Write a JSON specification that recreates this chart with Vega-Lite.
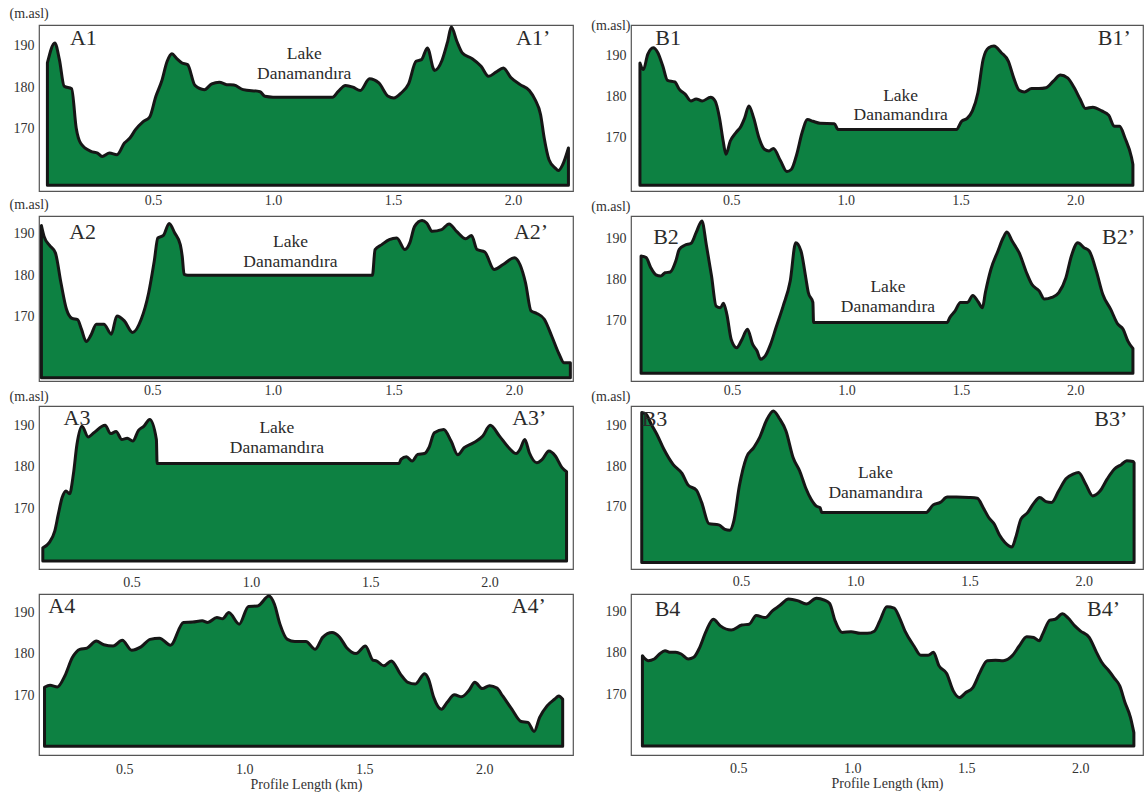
{
"$schema": "https://vega.github.io/schema/vega-lite/v6.json",
"background": "white",
"padding": {"left": 8, "top": 5, "right": 0, "bottom": 0},
"datasets": {
"A1": [{"km":0.060,"m":185.8},{"km":0.091,"m":190.6},{"km":0.11,"m":186.6},{"km":0.13,"m":180.2},{"km":0.161,"m":179.6},{"km":0.18,"m":170.2},{"km":0.198,"m":166.6},{"km":0.241,"m":164.6},{"km":0.269,"m":164.2},{"km":0.288,"m":163.4},{"km":0.319,"m":164.2},{"km":0.35,"m":163.8},{"km":0.381,"m":166.6},{"km":0.404,"m":167.8},{"km":0.427,"m":169.8},{"km":0.458,"m":171.7},{"km":0.486,"m":172.8},{"km":0.512,"m":177.8},{"km":0.536,"m":181.4},{"km":0.559,"m":186.2},{"km":0.579,"m":188},{"km":0.598,"m":186.9},{"km":0.621,"m":185.8},{"km":0.644,"m":185.4},{"km":0.675,"m":180.4},{"km":0.714,"m":179.4},{"km":0.745,"m":180.8},{"km":0.776,"m":181.2},{"km":0.807,"m":180.6},{"km":0.837,"m":180.5},{"km":0.876,"m":179.4},{"km":0.946,"m":178.9},{"km":0.966,"m":177.8},{"km":1.0,"m":177.6},{"km":1.248,"m":177.6},{"km":1.272,"m":179},{"km":1.302,"m":180.4},{"km":1.333,"m":180},{"km":1.364,"m":179.2},{"km":1.402,"m":182},{"km":1.441,"m":181},{"km":1.48,"m":177.8},{"km":1.503,"m":177.4},{"km":1.534,"m":178.6},{"km":1.565,"m":180.8},{"km":1.596,"m":186.2},{"km":1.619,"m":186.6},{"km":1.643,"m":189.4},{"km":1.673,"m":184},{"km":1.704,"m":186.4},{"km":1.728,"m":191},{"km":1.743,"m":194.4},{"km":1.766,"m":191},{"km":1.789,"m":188.2},{"km":1.828,"m":186.9},{"km":1.867,"m":185},{"km":1.898,"m":182.6},{"km":1.929,"m":183.6},{"km":1.96,"m":184.6},{"km":1.991,"m":182.3},{"km":2.03,"m":180.6},{"km":2.068,"m":179.2},{"km":2.092,"m":177},{"km":2.115,"m":173.4},{"km":2.13,"m":167.8},{"km":2.15,"m":162.6},{"km":2.176,"m":160.6},{"km":2.189,"m":160},{"km":2.207,"m":161.4},{"km":2.231,"m":165.4}],
"A2": [{"km":0.040,"m":192},{"km":0.051,"m":189.4},{"km":0.074,"m":187.2},{"km":0.098,"m":185.4},{"km":0.121,"m":178.2},{"km":0.144,"m":171.8},{"km":0.167,"m":169.6},{"km":0.19,"m":169.3},{"km":0.206,"m":167},{"km":0.226,"m":164},{"km":0.245,"m":165.5},{"km":0.268,"m":168.2},{"km":0.299,"m":168.2},{"km":0.33,"m":165.8},{"km":0.353,"m":170.2},{"km":0.384,"m":169},{"km":0.418,"m":166.2},{"km":0.454,"m":169.4},{"km":0.485,"m":175.8},{"km":0.508,"m":183.4},{"km":0.523,"m":189},{"km":0.546,"m":189.6},{"km":0.57,"m":192.5},{"km":0.593,"m":190.2},{"km":0.616,"m":187.4},{"km":0.624,"m":184.6},{"km":0.632,"m":180.2},{"km":0.647,"m":180},{"km":1.413,"m":180},{"km":1.424,"m":186.2},{"km":1.452,"m":187.4},{"km":1.483,"m":188.6},{"km":1.514,"m":189},{"km":1.548,"m":186.2},{"km":1.568,"m":187.8},{"km":1.588,"m":191.8},{"km":1.619,"m":193.2},{"km":1.638,"m":192.6},{"km":1.661,"m":190.6},{"km":1.7,"m":191},{"km":1.731,"m":192.4},{"km":1.762,"m":190.6},{"km":1.8,"m":188.8},{"km":1.824,"m":189.6},{"km":1.847,"m":186.2},{"km":1.879,"m":185.6},{"km":1.918,"m":181.4},{"km":1.955,"m":182.6},{"km":2.002,"m":184.2},{"km":2.025,"m":182.6},{"km":2.048,"m":178.2},{"km":2.071,"m":171.4},{"km":2.095,"m":170.8},{"km":2.126,"m":169.4},{"km":2.157,"m":165.3},{"km":2.188,"m":160.9},{"km":2.208,"m":158.9},{"km":2.234,"m":158.9}],
"A3": [{"km":0.128,"m":160.5},{"km":0.154,"m":161.7},{"km":0.178,"m":164.5},{"km":0.193,"m":168.6},{"km":0.209,"m":172.6},{"km":0.225,"m":174.2},{"km":0.24,"m":173.5},{"km":0.256,"m":178.2},{"km":0.271,"m":185.4},{"km":0.292,"m":189.8},{"km":0.318,"m":187.2},{"km":0.342,"m":188.2},{"km":0.389,"m":190},{"km":0.412,"m":188},{"km":0.435,"m":188.5},{"km":0.459,"m":186.6},{"km":0.482,"m":186.9},{"km":0.505,"m":186.2},{"km":0.529,"m":188.8},{"km":0.552,"m":189.8},{"km":0.576,"m":191.4},{"km":0.604,"m":186.6},{"km":0.607,"m":180.8},{"km":1.621,"m":180.8},{"km":1.629,"m":181.8},{"km":1.652,"m":182.4},{"km":1.676,"m":181.4},{"km":1.699,"m":183},{"km":1.727,"m":183.2},{"km":1.746,"m":184.6},{"km":1.769,"m":188.2},{"km":1.808,"m":189},{"km":1.839,"m":186.2},{"km":1.867,"m":182.9},{"km":1.894,"m":184.6},{"km":1.933,"m":185.8},{"km":1.972,"m":187.4},{"km":2.003,"m":190},{"km":2.042,"m":187.4},{"km":2.081,"m":184.6},{"km":2.112,"m":183.2},{"km":2.128,"m":184.2},{"km":2.148,"m":186.6},{"km":2.167,"m":183.4},{"km":2.198,"m":181},{"km":2.221,"m":181.8},{"km":2.249,"m":183.8},{"km":2.276,"m":182.6},{"km":2.304,"m":179.8},{"km":2.323,"m":178.8}],
"A4": [{"km":0.168,"m":171.9},{"km":0.191,"m":172.4},{"km":0.222,"m":172},{"km":0.253,"m":174.7},{"km":0.284,"m":179.1},{"km":0.315,"m":181.1},{"km":0.345,"m":181.4},{"km":0.384,"m":183.1},{"km":0.415,"m":182.2},{"km":0.454,"m":181.9},{"km":0.492,"m":183.3},{"km":0.531,"m":180.9},{"km":0.57,"m":181.7},{"km":0.608,"m":183.5},{"km":0.647,"m":183.8},{"km":0.693,"m":182.1},{"km":0.747,"m":187.6},{"km":0.786,"m":187.7},{"km":0.825,"m":188},{"km":0.848,"m":187.6},{"km":0.886,"m":188.8},{"km":0.91,"m":188.5},{"km":0.936,"m":190},{"km":0.979,"m":187.2},{"km":1.018,"m":191.5},{"km":1.056,"m":191.6},{"km":1.103,"m":194},{"km":1.126,"m":192},{"km":1.149,"m":187.2},{"km":1.18,"m":183.5},{"km":1.211,"m":183},{"km":1.257,"m":183},{"km":1.296,"m":181.1},{"km":1.327,"m":184},{"km":1.366,"m":185.2},{"km":1.397,"m":184.1},{"km":1.427,"m":181.5},{"km":1.466,"m":180.1},{"km":1.505,"m":181.9},{"km":1.536,"m":178.5},{"km":1.551,"m":178.3},{"km":1.582,"m":177.1},{"km":1.613,"m":178.3},{"km":1.651,"m":175.1},{"km":1.682,"m":173.1},{"km":1.713,"m":172.7},{"km":1.752,"m":175.2},{"km":1.768,"m":173.9},{"km":1.79,"m":169.4},{"km":1.822,"m":166.6},{"km":1.845,"m":168.2},{"km":1.876,"m":170.1},{"km":1.906,"m":169.6},{"km":1.937,"m":171.2},{"km":1.961,"m":173.1},{"km":1.992,"m":171.6},{"km":2.022,"m":172.3},{"km":2.053,"m":171.7},{"km":2.077,"m":169.8},{"km":2.115,"m":166.6},{"km":2.154,"m":163.6},{"km":2.182,"m":163.4},{"km":2.208,"m":161.2},{"km":2.231,"m":164.6},{"km":2.262,"m":167.4},{"km":2.293,"m":169},{"km":2.311,"m":169.8},{"km":2.327,"m":169}],
"B1": [{"km":0.102,"m":188.1},{"km":0.117,"m":186.5},{"km":0.136,"m":190.2},{"km":0.16,"m":191.8},{"km":0.18,"m":190.6},{"km":0.202,"m":187.3},{"km":0.222,"m":183.9},{"km":0.254,"m":183.5},{"km":0.274,"m":181.7},{"km":0.3,"m":180.5},{"km":0.324,"m":178.9},{"km":0.347,"m":179.4},{"km":0.374,"m":178.9},{"km":0.41,"m":179.8},{"km":0.43,"m":178.9},{"km":0.449,"m":174.8},{"km":0.465,"m":169.2},{"km":0.477,"m":166},{"km":0.496,"m":169.2},{"km":0.52,"m":171.2},{"km":0.543,"m":172.8},{"km":0.559,"m":174.8},{"km":0.577,"m":177.7},{"km":0.598,"m":174.8},{"km":0.621,"m":170},{"km":0.645,"m":167.2},{"km":0.665,"m":166.8},{"km":0.684,"m":167.4},{"km":0.715,"m":164.4},{"km":0.743,"m":161.8},{"km":0.762,"m":162.3},{"km":0.786,"m":166},{"km":0.809,"m":171.2},{"km":0.833,"m":174.4},{"km":0.856,"m":174},{"km":0.887,"m":173.5},{"km":0.95,"m":173.4},{"km":0.966,"m":172},{"km":0.981,"m":172},{"km":1.482,"m":172},{"km":1.505,"m":174},{"km":1.529,"m":174.7},{"km":1.552,"m":176.5},{"km":1.576,"m":180.9},{"km":1.599,"m":189},{"km":1.623,"m":191.8},{"km":1.646,"m":192.2},{"km":1.678,"m":190.6},{"km":1.709,"m":188.5},{"km":1.732,"m":184.5},{"km":1.756,"m":181.5},{"km":1.779,"m":181.1},{"km":1.81,"m":181.9},{"km":1.842,"m":181.9},{"km":1.873,"m":182.1},{"km":1.905,"m":183.7},{"km":1.936,"m":185.2},{"km":1.967,"m":184.5},{"km":1.998,"m":181.9},{"km":2.022,"m":179.3},{"km":2.045,"m":177.1},{"km":2.077,"m":177.4},{"km":2.116,"m":176.5},{"km":2.147,"m":175.4},{"km":2.17,"m":172.8},{"km":2.194,"m":172.8},{"km":2.217,"m":170},{"km":2.246,"m":165.2},{"km":2.252,"m":163.5}],
"B2": [{"km":0.102,"m":185.8},{"km":0.124,"m":185.4},{"km":0.144,"m":183},{"km":0.167,"m":181.2},{"km":0.188,"m":180.9},{"km":0.207,"m":181.7},{"km":0.23,"m":181.9},{"km":0.254,"m":184.6},{"km":0.269,"m":187.4},{"km":0.293,"m":188.4},{"km":0.321,"m":188.9},{"km":0.343,"m":191.5},{"km":0.368,"m":194.3},{"km":0.387,"m":188.6},{"km":0.41,"m":180.9},{"km":0.43,"m":173.6},{"km":0.449,"m":173.2},{"km":0.462,"m":174.3},{"km":0.477,"m":171.6},{"km":0.496,"m":165.5},{"km":0.52,"m":163.5},{"km":0.543,"m":165.5},{"km":0.567,"m":168},{"km":0.59,"m":164.3},{"km":0.609,"m":162.7},{"km":0.624,"m":160.7},{"km":0.645,"m":161.5},{"km":0.668,"m":164.3},{"km":0.692,"m":168.4},{"km":0.723,"m":173.6},{"km":0.754,"m":179.7},{"km":0.778,"m":189},{"km":0.801,"m":187},{"km":0.822,"m":180.5},{"km":0.833,"m":176.9},{"km":0.853,"m":174.5},{"km":0.856,"m":169.6},{"km":1.44,"m":169.6},{"km":1.451,"m":170.8},{"km":1.474,"m":172.4},{"km":1.498,"m":174.5},{"km":1.529,"m":174.5},{"km":1.552,"m":176.2},{"km":1.576,"m":174.6},{"km":1.594,"m":173.2},{"km":1.607,"m":176.9},{"km":1.631,"m":182.5},{"km":1.662,"m":187},{"km":1.685,"m":190.2},{"km":1.701,"m":191.6},{"km":1.724,"m":189.4},{"km":1.756,"m":186.4},{"km":1.787,"m":181.7},{"km":1.81,"m":178.9},{"km":1.842,"m":177.3},{"km":1.865,"m":175.3},{"km":1.897,"m":175.7},{"km":1.928,"m":176.9},{"km":1.959,"m":180.5},{"km":1.983,"m":185.8},{"km":2.011,"m":189},{"km":2.038,"m":187.8},{"km":2.061,"m":187},{"km":2.092,"m":182.1},{"km":2.12,"m":176.5},{"km":2.155,"m":172.8},{"km":2.186,"m":169.2},{"km":2.209,"m":168},{"km":2.23,"m":165.1},{"km":2.249,"m":163.5},{"km":2.252,"m":163.3}],
"B3": [{"km":0.066,"m":193.1},{"km":0.085,"m":192.7},{"km":0.108,"m":190.2},{"km":0.132,"m":187.8},{"km":0.163,"m":184.1},{"km":0.203,"m":180.4},{"km":0.242,"m":178.2},{"km":0.268,"m":175.4},{"km":0.305,"m":174.1},{"km":0.328,"m":171.1},{"km":0.36,"m":165.9},{"km":0.403,"m":165.6},{"km":0.43,"m":164.5},{"km":0.451,"m":164.3},{"km":0.469,"m":166.6},{"km":0.493,"m":175.1},{"km":0.524,"m":182.1},{"km":0.556,"m":184.5},{"km":0.582,"m":187},{"km":0.611,"m":191.1},{"km":0.642,"m":193.5},{"km":0.67,"m":191.5},{"km":0.697,"m":188.6},{"km":0.728,"m":182.1},{"km":0.757,"m":178.8},{"km":0.783,"m":174.7},{"km":0.807,"m":171.9},{"km":0.83,"m":170.2},{"km":0.846,"m":169.8},{"km":0.854,"m":168.6},{"km":1.309,"m":168.6},{"km":1.341,"m":170.5},{"km":1.372,"m":171.1},{"km":1.403,"m":172.4},{"km":1.443,"m":172.4},{"km":1.498,"m":172.3},{"km":1.534,"m":172.1},{"km":1.56,"m":169.8},{"km":1.584,"m":167.4},{"km":1.608,"m":165.8},{"km":1.631,"m":163.1},{"km":1.655,"m":161.3},{"km":1.686,"m":160.2},{"km":1.702,"m":162.5},{"km":1.725,"m":167},{"km":1.754,"m":168.6},{"km":1.78,"m":170.8},{"km":1.807,"m":172.3},{"km":1.835,"m":171.3},{"km":1.859,"m":171.1},{"km":1.89,"m":173.9},{"km":1.922,"m":176.9},{"km":1.953,"m":178},{"km":1.977,"m":178.4},{"km":2.008,"m":175.6},{"km":2.039,"m":172.7},{"km":2.071,"m":173.9},{"km":2.102,"m":176.8},{"km":2.133,"m":179.2},{"km":2.165,"m":180.4},{"km":2.188,"m":181.3},{"km":2.215,"m":181.1},{"km":2.22,"m":180.8}],
"B4": [{"km":0.08,"m":179.3},{"km":0.105,"m":178.1},{"km":0.132,"m":178.5},{"km":0.155,"m":179.7},{"km":0.179,"m":180.5},{"km":0.203,"m":180.1},{"km":0.226,"m":180.1},{"km":0.25,"m":179.7},{"km":0.281,"m":178.5},{"km":0.305,"m":178.9},{"km":0.328,"m":180.9},{"km":0.36,"m":185.3},{"km":0.391,"m":188.1},{"km":0.422,"m":186.5},{"km":0.47,"m":185.5},{"km":0.516,"m":186.7},{"km":0.548,"m":186.9},{"km":0.579,"m":189},{"km":0.619,"m":188.5},{"km":0.651,"m":190.2},{"km":0.682,"m":191.4},{"km":0.721,"m":193},{"km":0.76,"m":192.6},{"km":0.799,"m":191.8},{"km":0.843,"m":193.2},{"km":0.878,"m":192.7},{"km":0.901,"m":191.9},{"km":0.925,"m":187.7},{"km":0.956,"m":184.9},{"km":0.995,"m":185.1},{"km":1.035,"m":184.7},{"km":1.066,"m":184.7},{"km":1.097,"m":185.2},{"km":1.121,"m":187.7},{"km":1.152,"m":191.1},{"km":1.184,"m":190.8},{"km":1.207,"m":188.5},{"km":1.231,"m":185.3},{"km":1.27,"m":181.7},{"km":1.301,"m":179.4},{"km":1.333,"m":179.4},{"km":1.356,"m":180.1},{"km":1.38,"m":176.9},{"km":1.414,"m":175},{"km":1.443,"m":170.8},{"km":1.471,"m":169.2},{"km":1.498,"m":170.4},{"km":1.529,"m":171.6},{"km":1.56,"m":175.2},{"km":1.592,"m":178.1},{"km":1.628,"m":178.2},{"km":1.662,"m":178.1},{"km":1.702,"m":179.3},{"km":1.733,"m":181.7},{"km":1.765,"m":183.9},{"km":1.796,"m":183.7},{"km":1.82,"m":182.9},{"km":1.835,"m":184.5},{"km":1.867,"m":187.9},{"km":1.89,"m":188.1},{"km":1.922,"m":189.4},{"km":1.945,"m":188.5},{"km":1.976,"m":186.5},{"km":2.0,"m":185.3},{"km":2.039,"m":183.7},{"km":2.071,"m":180.1},{"km":2.094,"m":177.7},{"km":2.126,"m":175.6},{"km":2.149,"m":173.9},{"km":2.173,"m":172},{"km":2.196,"m":168},{"km":2.22,"m":164.4},{"km":2.235,"m":160.7}],
"labels": [
{"p":"A1","k":"end","t":"A1","km":0.21,"m":191.7},{"p":"A1","k":"end","t":"A1’","km":2.084,"m":191.7},{"p":"A1","k":"lake","t":"Lake","km":1.13,"m":188},{"p":"A1","k":"lake","t":"Danamandıra","km":1.13,"m":183.2},
{"p":"A2","k":"end","t":"A2","km":0.211,"m":190.4},{"p":"A2","k":"end","t":"A2’","km":2.071,"m":190.4},{"p":"A2","k":"lake","t":"Lake","km":1.073,"m":188.1},{"p":"A2","k":"lake","t":"Danamandıra","km":1.073,"m":183.2},
{"p":"A3","k":"end","t":"A3","km":0.271,"m":191.8},{"p":"A3","k":"end","t":"A3’","km":2.167,"m":191.8},{"p":"A3","k":"lake","t":"Lake","km":1.109,"m":189.4},{"p":"A3","k":"lake","t":"Danamandıra","km":1.109,"m":184.6},
{"p":"A4","k":"end","t":"A4","km":0.24,"m":191.6},{"p":"A4","k":"end","t":"A4’","km":2.185,"m":191.6},
{"p":"B1","k":"end","t":"B1","km":0.225,"m":194.2},{"p":"B1","k":"end","t":"B1’","km":2.171,"m":194.2},{"p":"B1","k":"lake","t":"Lake","km":1.239,"m":180.1},{"p":"B1","k":"lake","t":"Danamandıra","km":1.239,"m":175.4},
{"p":"B2","k":"end","t":"B2","km":0.211,"m":190.5},{"p":"B2","k":"end","t":"B2’","km":2.189,"m":190.5},{"p":"B2","k":"lake","t":"Lake","km":1.181,"m":178.3},{"p":"B2","k":"lake","t":"Danamandıra","km":1.181,"m":173.5},
{"p":"B3","k":"end","t":"B3","km":0.122,"m":191.5},{"p":"B3","k":"end","t":"B3’","km":2.118,"m":191.5},{"p":"B3","k":"lake","t":"Lake","km":1.089,"m":178.2},{"p":"B3","k":"lake","t":"Danamandıra","km":1.089,"m":173.3},
{"p":"B4","k":"end","t":"B4","km":0.19,"m":190.6},{"p":"B4","k":"end","t":"B4’","km":2.102,"m":190.6}
]
},
"columns": 2,
"bounds": "flush",
"spacing": {"row": 25, "column": 58},
"concat": [
{"width":534,"height":166,
 "encoding":{"x":{"field":"km","type":"quantitative","scale":{"domain":[0.025,2.25],"nice":false,"zero":false},"axis":{"values":[0.5,1,1.5,2],"format":".1f","title":null,"labelPadding":2}},
  "y":{"field":"m","type":"quantitative","scale":{"domain":[155.1,194.9],"nice":false,"zero":false},"axis":{"values":[170,180,190],"title":"(m.asl)","titleAngle":0,"titleAlign":"left","titleBaseline":"middle","titleX":-30,"titleY":-12,"labelPadding":5}}},
 "layer":[
  {"data":{"name":"A1"},"mark":{"type":"area","interpolate":"monotone","fill":"#0d8142","stroke":"#161616","strokeWidth":3,"strokeJoin":"round"},"encoding":{"y2":{"datum":156.5}}},
  {"data":{"name":"labels"},"transform":[{"filter":"datum.p == 'A1' && datum.k == 'end'"}],"mark":{"type":"text","font":"Liberation Serif, Times New Roman, serif","fontSize":22,"fill":"#2b2b2b"},"encoding":{"text":{"field":"t"}}},
  {"data":{"name":"labels"},"transform":[{"filter":"datum.p == 'A1' && datum.k == 'lake'"}],"mark":{"type":"text","font":"Liberation Serif, Times New Roman, serif","fontSize":17.5,"fill":"#2b2b2b"},"encoding":{"text":{"field":"t"}}}
 ]},
{"width":512,"height":166,
 "encoding":{"x":{"field":"km","type":"quantitative","scale":{"domain":[0.063,2.296],"nice":false,"zero":false},"axis":{"values":[0.5,1,1.5,2],"format":".1f","title":null,"labelPadding":2}},
  "y":{"field":"m","type":"quantitative","scale":{"domain":[157.1,197.3],"nice":false,"zero":false},"axis":{"values":[170,180,190],"title":"(m.asl)","titleAngle":0,"titleAlign":"right","titleBaseline":"middle","titleX":-1,"titleY":0,"labelPadding":5}}},
 "layer":[
  {"data":{"name":"B1"},"mark":{"type":"area","interpolate":"monotone","fill":"#0d8142","stroke":"#161616","strokeWidth":3,"strokeJoin":"round"},"encoding":{"y2":{"datum":158.5}}},
  {"data":{"name":"labels"},"transform":[{"filter":"datum.p == 'B1' && datum.k == 'end'"}],"mark":{"type":"text","font":"Liberation Serif, Times New Roman, serif","fontSize":22,"fill":"#2b2b2b"},"encoding":{"text":{"field":"t"}}},
  {"data":{"name":"labels"},"transform":[{"filter":"datum.p == 'B1' && datum.k == 'lake'"}],"mark":{"type":"text","font":"Liberation Serif, Times New Roman, serif","fontSize":17.5,"fill":"#2b2b2b"},"encoding":{"text":{"field":"t"}}}
 ]},
{"width":534,"height":165,
 "encoding":{"x":{"field":"km","type":"quantitative","scale":{"domain":[0.03,2.245],"nice":false,"zero":false},"axis":{"values":[0.5,1,1.5,2],"format":".1f","title":null,"labelPadding":2}},
  "y":{"field":"m","type":"quantitative","scale":{"domain":[154.5,194.3],"nice":false,"zero":false},"axis":{"values":[170,180,190],"title":"(m.asl)","titleAngle":0,"titleAlign":"left","titleBaseline":"middle","titleX":-30,"titleY":-12,"labelPadding":5}}},
 "layer":[
  {"data":{"name":"A2"},"mark":{"type":"area","interpolate":"monotone","fill":"#0d8142","stroke":"#161616","strokeWidth":3,"strokeJoin":"round"},"encoding":{"y2":{"datum":155.3}}},
  {"data":{"name":"labels"},"transform":[{"filter":"datum.p == 'A2' && datum.k == 'end'"}],"mark":{"type":"text","font":"Liberation Serif, Times New Roman, serif","fontSize":22,"fill":"#2b2b2b"},"encoding":{"text":{"field":"t"}}},
  {"data":{"name":"labels"},"transform":[{"filter":"datum.p == 'A2' && datum.k == 'lake'"}],"mark":{"type":"text","font":"Liberation Serif, Times New Roman, serif","fontSize":17.5,"fill":"#2b2b2b"},"encoding":{"text":{"field":"t"}}}
 ]},
{"width":512,"height":165,
 "encoding":{"x":{"field":"km","type":"quantitative","scale":{"domain":[0.058,2.296],"nice":false,"zero":false},"axis":{"values":[0.5,1,1.5,2],"format":".1f","title":null,"labelPadding":2}},
  "y":{"field":"m","type":"quantitative","scale":{"domain":[155.4,195.5],"nice":false,"zero":false},"axis":{"values":[170,180,190],"title":"(m.asl)","titleAngle":0,"titleAlign":"right","titleBaseline":"middle","titleX":-1,"titleY":-10,"labelPadding":5}}},
 "layer":[
  {"data":{"name":"B2"},"mark":{"type":"area","interpolate":"monotone","fill":"#0d8142","stroke":"#161616","strokeWidth":3,"strokeJoin":"round"},"encoding":{"y2":{"datum":157.3}}},
  {"data":{"name":"labels"},"transform":[{"filter":"datum.p == 'B2' && datum.k == 'end'"}],"mark":{"type":"text","font":"Liberation Serif, Times New Roman, serif","fontSize":22,"fill":"#2b2b2b"},"encoding":{"text":{"field":"t"}}},
  {"data":{"name":"labels"},"transform":[{"filter":"datum.p == 'B2' && datum.k == 'lake'"}],"mark":{"type":"text","font":"Liberation Serif, Times New Roman, serif","fontSize":17.5,"fill":"#2b2b2b"},"encoding":{"text":{"field":"t"}}}
 ]},
{"width":534,"height":163,
 "encoding":{"x":{"field":"km","type":"quantitative","scale":{"domain":[0.112,2.35],"nice":false,"zero":false},"axis":{"values":[0.5,1,1.5,2],"format":".1f","title":null,"labelPadding":6}},
  "y":{"field":"m","type":"quantitative","scale":{"domain":[155.4,194.65],"nice":false,"zero":false},"axis":{"values":[170,180,190],"title":"(m.asl)","titleAngle":0,"titleAlign":"left","titleBaseline":"middle","titleX":-30,"titleY":-10,"labelPadding":5}}},
 "layer":[
  {"data":{"name":"A3"},"mark":{"type":"area","interpolate":"monotone","fill":"#0d8142","stroke":"#161616","strokeWidth":3,"strokeJoin":"round"},"encoding":{"y2":{"datum":157.3}}},
  {"data":{"name":"labels"},"transform":[{"filter":"datum.p == 'A3' && datum.k == 'end'"}],"mark":{"type":"text","font":"Liberation Serif, Times New Roman, serif","fontSize":22,"fill":"#2b2b2b"},"encoding":{"text":{"field":"t"}}},
  {"data":{"name":"labels"},"transform":[{"filter":"datum.p == 'A3' && datum.k == 'lake'"}],"mark":{"type":"text","font":"Liberation Serif, Times New Roman, serif","fontSize":17.5,"fill":"#2b2b2b"},"encoding":{"text":{"field":"t"}}}
 ]},
{"width":512,"height":163,
 "encoding":{"x":{"field":"km","type":"quantitative","scale":{"domain":[0.019,2.259],"nice":false,"zero":false},"axis":{"values":[0.5,1,1.5,2],"format":".1f","title":null,"labelPadding":5}},
  "y":{"field":"m","type":"quantitative","scale":{"domain":[154.8,194.7],"nice":false,"zero":false},"axis":{"values":[170,180,190],"title":"(m.asl)","titleAngle":0,"titleAlign":"right","titleBaseline":"middle","titleX":-1,"titleY":-10,"labelPadding":5}}},
 "layer":[
  {"data":{"name":"B3"},"mark":{"type":"area","interpolate":"monotone","fill":"#0d8142","stroke":"#161616","strokeWidth":3,"strokeJoin":"round"},"encoding":{"y2":{"datum":156.4}}},
  {"data":{"name":"labels"},"transform":[{"filter":"datum.p == 'B3' && datum.k == 'end'"}],"mark":{"type":"text","font":"Liberation Serif, Times New Roman, serif","fontSize":22,"fill":"#2b2b2b"},"encoding":{"text":{"field":"t"}}},
  {"data":{"name":"labels"},"transform":[{"filter":"datum.p == 'B3' && datum.k == 'lake'"}],"mark":{"type":"text","font":"Liberation Serif, Times New Roman, serif","fontSize":17.5,"fill":"#2b2b2b"},"encoding":{"text":{"field":"t"}}}
 ]},
{"width":534,"height":161,
 "encoding":{"x":{"field":"km","type":"quantitative","scale":{"domain":[0.145,2.37],"nice":false,"zero":false},"axis":{"values":[0.5,1,1.5,2],"format":".1f","title":"Profile Length (km)","titlePadding":1,"labelPadding":7}},
  "y":{"field":"m","type":"quantitative","scale":{"domain":[155.5,194.5],"nice":false,"zero":false},"axis":{"values":[170,180,190],"title":null,"labelPadding":5}}},
 "layer":[
  {"data":{"name":"A4"},"mark":{"type":"area","interpolate":"monotone","fill":"#0d8142","stroke":"#161616","strokeWidth":3,"strokeJoin":"round"},"encoding":{"y2":{"datum":157.6}}},
  {"data":{"name":"labels"},"transform":[{"filter":"datum.p == 'A4' && datum.k == 'end'"}],"mark":{"type":"text","font":"Liberation Serif, Times New Roman, serif","fontSize":22,"fill":"#2b2b2b"},"encoding":{"text":{"field":"t"}}}
 ]},
{"width":512,"height":161,
 "encoding":{"x":{"field":"km","type":"quantitative","scale":{"domain":[0.03,2.275],"nice":false,"zero":false},"axis":{"values":[0.5,1,1.5,2],"format":".1f","title":"Profile Length (km)","titlePadding":1,"labelPadding":6}},
  "y":{"field":"m","type":"quantitative","scale":{"domain":[155.3,194.2],"nice":false,"zero":false},"axis":{"values":[170,180,190],"title":null,"labelPadding":5}}},
 "layer":[
  {"data":{"name":"B4"},"mark":{"type":"area","interpolate":"monotone","fill":"#0d8142","stroke":"#161616","strokeWidth":3,"strokeJoin":"round"},"encoding":{"y2":{"datum":157.5}}},
  {"data":{"name":"labels"},"transform":[{"filter":"datum.p == 'B4' && datum.k == 'end'"}],"mark":{"type":"text","font":"Liberation Serif, Times New Roman, serif","fontSize":22,"fill":"#2b2b2b"},"encoding":{"text":{"field":"t"}}}
 ]}
],
"config": {
 "font": "Liberation Serif, Times New Roman, serif",
 "view": {"stroke": "#555555", "strokeWidth": 1.2},
 "axis": {"grid": false, "ticks": false, "domain": false, "labelFont": "Liberation Serif, Times New Roman, serif", "labelFontSize": 14, "labelColor": "#333333", "titleFont": "Liberation Serif, Times New Roman, serif", "titleFontSize": 14, "titleFontWeight": "normal", "titleColor": "#333333"}
}
}
